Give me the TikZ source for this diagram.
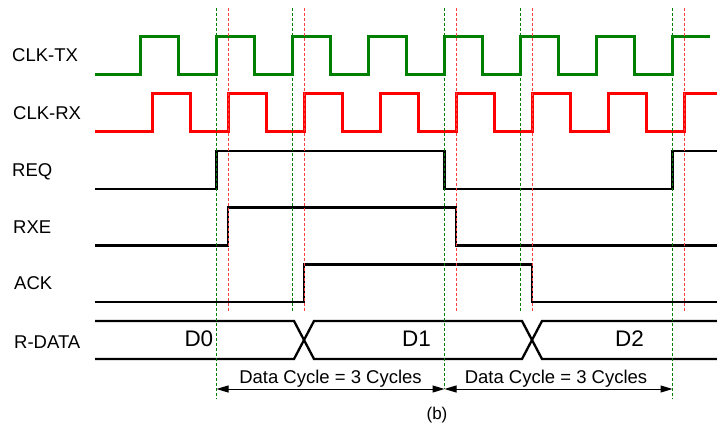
\documentclass[tikz,border=0pt]{standalone}
\usepackage{fontspec}
\setmainfont{Liberation Sans}
\usetikzlibrary{arrows.meta}
\definecolor{clkgreen}{RGB}{0,128,0}
\definecolor{clkred}{RGB}{255,0,0}
\begin{document}
\begin{tikzpicture}[x=1pt,y=-1pt,
  txclk/.style={clkgreen,line width=3pt},
  rxclk/.style={clkred,line width=3pt},
  sig/.style={black,line width=2.3pt},
  gdash/.style={clkgreen,line width=0.9pt,dash pattern=on 3pt off 2pt},
  rdash/.style={clkred!75,line width=0.9pt,dash pattern=on 3pt off 2pt},
  lbl/.style={font=\fontsize{18.5}{22}\selectfont,anchor=base west,inner sep=0pt},
  dlbl/.style={font=\fontsize{22.5}{26}\selectfont,anchor=base west,inner sep=0pt},
  cyc/.style={font=\fontsize{18.5}{22}\selectfont,anchor=base,inner sep=0pt},
  dimarrow/.style={line width=1pt,{Triangle[length=12pt,width=7pt]}-{Triangle[length=12pt,width=7pt]}}
]
\useasboundingbox (0,0) rectangle (717,430);

% labels
\node[lbl] (lclktx) at (12,61.7) {CLK-TX};
\node[lbl] (lclkrx) at (13,120) {CLK-RX};
\node[lbl] (lreq) at (12,176.7) {REQ};
\node[lbl] (lrxe) at (13,233.3) {RXE};
\node[lbl] (lack) at (14,290) {ACK};
\node[lbl] (lrdata) at (14,348.3) {R-DATA};

% CLK-TX
\draw[txclk] (95,75) \foreach \k in {0,...,6}{
  -- ({140.5+76*\k},75) -- ({140.5+76*\k},37) -- ({178.5+76*\k},37) -- ({178.5+76*\k},75) }
  -- (672.5,75) -- (672.5,37) -- (710,37);

% CLK-RX
\draw[rxclk] (95,132) \foreach \k in {0,...,6}{
  -- ({152+76*\k},132) -- ({152+76*\k},94) -- ({190+76*\k},94) -- ({190+76*\k},132) }
  -- (684,132) -- (684,94) -- (720,94);

% REQ
\draw[sig] (95,189) -- (216.5,189) -- (216.5,151) -- (444.5,151) -- (444.5,189)
  -- (672.5,189) -- (672.5,151) -- (720,151);
% RXE
\draw[sig] (95,245.5) -- (228,245.5) -- (228,207.5) -- (456,207.5) -- (456,245.5) -- (720,245.5);
% ACK
\draw[sig] (95,302) -- (304,302) -- (304,264.5) -- (532,264.5) -- (532,302) -- (720,302);

% R-DATA
\draw[sig] (95,321) -- (294,321) -- (314,359) -- (522,359) -- (542,321) -- (720,321);
\draw[sig] (95,359) -- (294,359) -- (314,321) -- (522,321) -- (542,359) -- (720,359);
\node[dlbl] (d0) at (184.3,346.7) {D0};
\node[dlbl] (d1) at (402,346.7) {D1};
\node[dlbl] (d2) at (615,346.7) {D2};

% dashed reference lines
\draw[gdash] (216.5,8) -- (216.5,399);
\draw[gdash] (292.5,8) -- (292.5,312);
\draw[gdash] (444.5,8) -- (444.5,389);
\draw[gdash] (520.5,8) -- (520.5,312);
\draw[gdash] (672.5,8) -- (672.5,399);
\foreach \x in {228,304,456,532,684}{
  \draw[rdash] (\x,8) -- (\x,312);
}

% data cycle arrows
\coordinate (c0) at (216.5,389);
\coordinate (c1) at (444.5,389);
\coordinate (c2) at (672.5,389);
\draw[dimarrow] (c0) -- (c1);
\draw[dimarrow] (c1) -- (c2);
\node[cyc] (t1) at (330.5,383) {Data Cycle = 3 Cycles};
\node[cyc] (t2) at (556,383) {Data Cycle = 3 Cycles};
\node[font=\fontsize{17}{20}\selectfont,anchor=base,inner sep=0pt] (cap) at (437,419) {(b)};
\end{tikzpicture}
\end{document}
